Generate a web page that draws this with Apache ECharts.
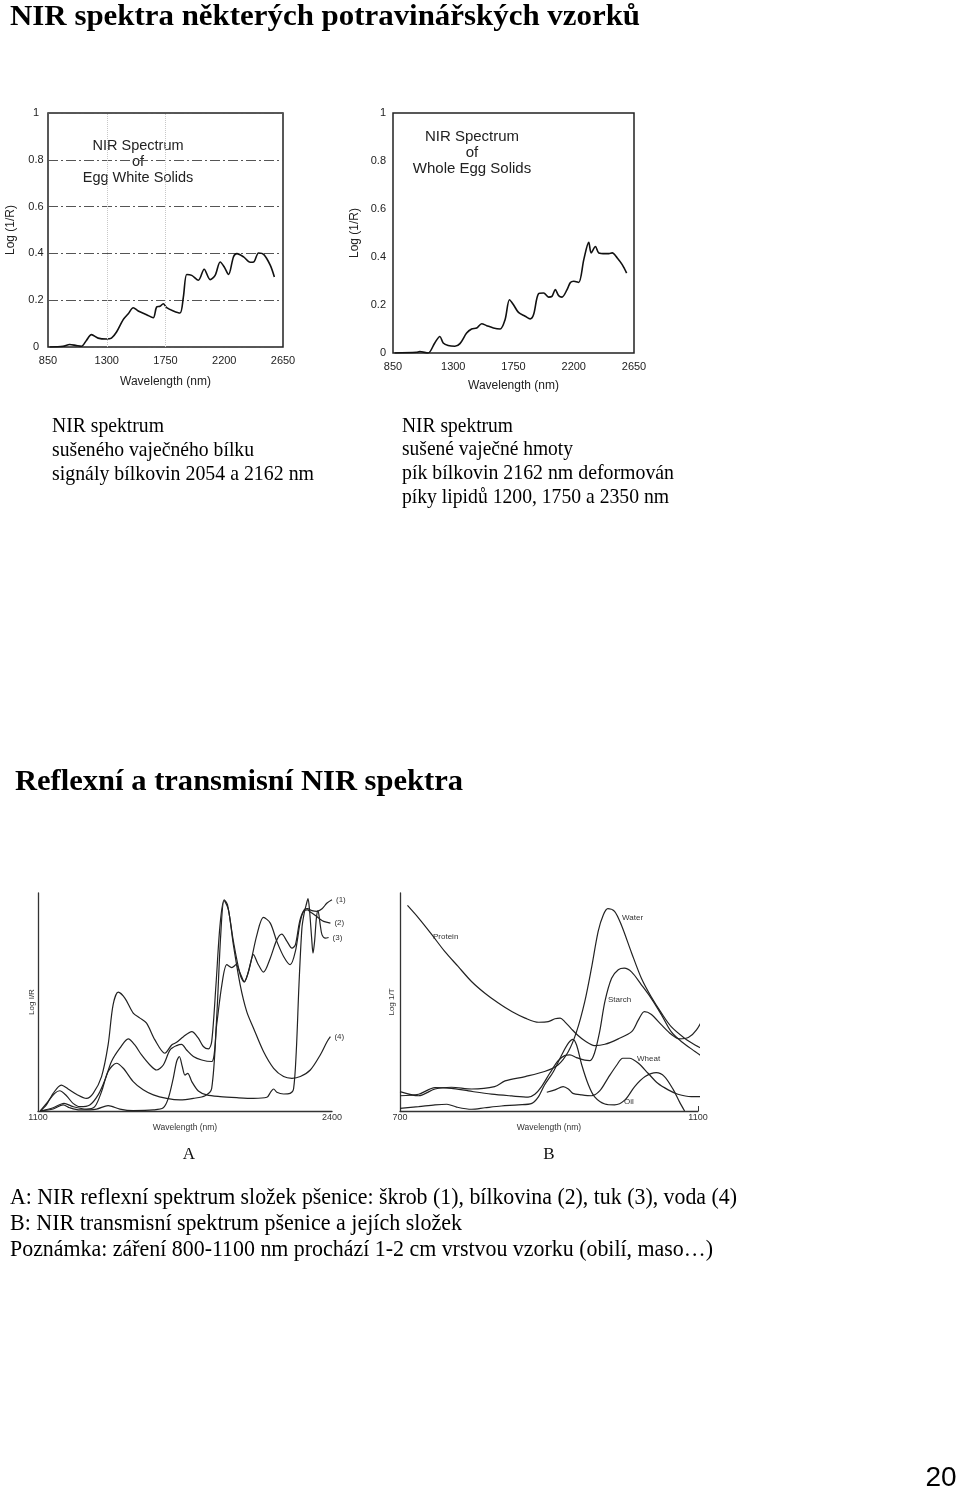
<!DOCTYPE html>
<html><head><meta charset="utf-8">
<script src="https://cdn.jsdelivr.net/npm/echarts@6/dist/echarts.min.js"></script>
<style>html,body{margin:0;padding:0;background:#fff}#c{width:960px;height:1491px}</style>
</head><body><div id="c"></div>
<script>
// ---------- Data: top-left, NIR spectrum of egg white solids ----------
const eggWhiteNm = [863,965,1016,1068,1106,1144,1183,1234,1298,1336,1375,1426,1465,1503,1541,1605,1656,1682,1708,1733,1759,1810,1861,1887,1913,1951,2002,2046,2092,2130,2169,2200,2233,2271,2297,2348,2399,2425,2463,2502,2553,2584];
const eggWhiteLogR = [0,0.003,0.011,0.006,0.003,0.028,0.053,0.038,0.034,0.038,0.064,0.117,0.142,0.168,0.154,0.138,0.125,0.171,0.174,0.185,0.168,0.154,0.145,0.214,0.31,0.306,0.285,0.332,0.288,0.306,0.363,0.342,0.31,0.386,0.399,0.385,0.362,0.363,0.402,0.396,0.349,0.299];
// ---------- Data: top-right, whole egg solids ----------
const wholeEggNm = [862,1025,1050,1112,1162,1200,1225,1262,1312,1350,1400,1437,1475,1512,1550,1600,1650,1687,1720,1750,1787,1837,1875,1900,1937,1975,2012,2037,2062,2087,2112,2150,2175,2200,2237,2275,2312,2330,2362,2387,2437,2462,2487,2525,2562,2595];
const wholeEggLogR = [0,0.003,0.006,0,0.042,0.069,0.042,0.031,0.028,0.039,0.083,0.1,0.104,0.122,0.114,0.104,0.1,0.139,0.222,0.201,0.169,0.153,0.142,0.16,0.247,0.25,0.233,0.236,0.264,0.239,0.233,0.264,0.294,0.299,0.294,0.389,0.461,0.417,0.444,0.417,0.414,0.414,0.417,0.396,0.368,0.333];
const topTicks = [850,1300,1750,2200,2650];

// ---------- Data: A, reflectance spectra of wheat components (relative units) ----------
const reflStarchNm = [1110,1137,1167,1203,1233,1270,1314,1344,1381,1410,1432,1455,1484,1521,1551,1580,1617,1661,1691,1713,1743,1780,1809,1831,1854,1868,1887,1905,1923,1938,1964,1994,2012,2038,2068,2097,2127,2156,2186,2215,2238,2260,2277,2292,2311,2334,2356,2378,2400];
const reflStarchVal = [0,2.8,8.1,11.9,10.1,7.7,5.8,8.1,15.8,30.3,48.7,54.5,51.8,44.9,42.6,40.3,32.6,26.5,30.3,31.5,34.1,36.4,33.4,29.6,28.5,31.8,57.9,85.4,96.9,94.6,77.8,62.5,59.1,67.1,80.8,88.8,86.2,77.8,70.9,67.1,73.2,87.0,92.3,92.8,91.9,91.6,92.8,95.4,96.9];
const reflProteinNm = [1110,1144,1174,1196,1226,1255,1285,1329,1366,1396,1425,1462,1499,1528,1558,1595,1624,1654,1684,1713,1735,1757,1787,1824,1868,1890,1913,1935,1957,1976,1994,2012,2031,2053,2071,2097,2127,2156,2178,2201,2223,2238,2257,2274,2292,2304,2319,2341,2363,2393];
const reflProteinVal = [0,4.3,8.1,9.3,7.0,3.5,2.0,2.8,7.4,14.2,22.7,28.8,33.1,30.3,25.7,21.1,18.8,21.1,28.0,30.0,30.6,28.0,25.0,23.4,22.7,39.5,57.9,67.1,65.8,67.1,63.2,59.4,64.0,71.7,67.8,63.7,70.1,78.5,81.1,77.8,74.7,76.2,87.0,91.6,92.3,91.3,90.3,88.5,87.0,86.2];
const reflOilNm = [1110,1167,1211,1240,1285,1359,1410,1462,1521,1610,1654,1676,1698,1713,1725,1738,1750,1762,1780,1809,1846,1905,1979,2053,2112,2130,2142,2156,2186,2215,2230,2242,2254,2267,2277,2286,2294,2301,2310,2316,2323,2331,2338,2348,2356,2371,2385];
const reflOilVal = [0,0.9,2.8,1.5,0.5,0.9,2.5,0.9,0.2,0.5,1.5,5.8,15.0,22.7,25.0,20.4,16.5,17.3,13.5,9.2,7.4,6.6,6.1,5.8,6.3,8.9,10.1,8.6,7.8,8.1,10.1,27.3,57.9,83.9,90.8,94.6,97.4,91.6,79.3,72.4,77.8,88.5,91.9,85.4,80.8,79.3,79.6];
const reflWaterNm = [1110,1167,1215,1255,1314,1351,1381,1410,1447,1477,1521,1565,1610,1669,1728,1787,1839,1868,1890,1908,1923,1942,1964,1994,2023,2053,2097,2142,2186,2223,2260,2304,2348,2378,2393];
const reflWaterVal = [0,1.5,3.5,2.0,0.9,2.0,8.9,18.1,21.9,19.6,13.5,9.7,7.4,5.8,5.1,5.8,7.0,10.4,42.6,80.8,96.5,92.3,76.2,57.9,45.6,38.0,27.3,19.6,15.8,15.0,15.8,18.8,25.7,31.8,34.1];
const reflLabels = ['(1)','(2)','(3)','(4)'];
const reflTicks = [1100,2400];

// ---------- Data: B, transmission spectra of wheat and components ----------
const transProteinNm = [710,725,743,760,778,796,814,832,850,868,886,899,908,915,921,930,939,948,961,975,993,1011,1020,1028,1037,1051,1064,1075,1087,1098,1109];
const transProteinVal = [94.3,88.5,80.8,73.2,66.3,59.4,54.0,49.5,45.6,42.6,40.7,41.0,42.3,42.6,41.0,37.7,34.6,32.2,30.0,30.6,33.1,36.4,41.8,45.6,44.4,39.5,35.2,33.1,33.7,37.2,44.1];
const transWaterNm = [700,725,747,769,796,827,841,868,894,912,926,937,948,957,966,973,979,988,997,1011,1024,1037,1051,1064,1082,1096,1109];
const transWaterVal = [8.9,7.0,10.1,10.9,10.1,11.2,13.8,15.8,18.1,21.1,27.3,36.4,50.2,65.5,82.4,90.0,92.8,91.6,85.4,72.4,60.9,52.5,44.9,38.7,33.4,30.3,28.0];
const transStarchNm = [700,725,747,769,792,823,850,872,881,890,901,912,921,928,937,948,955,961,968,975,984,993,1001,1011,1024,1037,1051,1064,1078,1096,1109];
const transStarchVal = [7.0,7.7,10.7,10.4,9.2,7.7,6.9,6.4,7.7,11.2,17.3,23.0,25.4,25.7,24.5,23.3,23.1,26.5,36.4,50.2,60.9,64.8,65.5,63.7,57.9,51.8,44.1,36.4,31.8,27.3,24.2];
const transOilNm = [700,725,747,763,776,796,814,836,859,877,886,894,906,917,926,932,937,944,953,961,975,988,1002,1015,1029,1044,1055,1067,1075,1082];
const transOilVal = [1.2,2.0,2.8,3.1,1.8,0.8,1.5,2.3,2.8,3.5,6.6,11.9,18.1,25.7,31.1,32.9,30.3,21.1,11.9,6.6,3.2,2.8,5.1,11.2,15.8,17.6,15.8,9.7,4.3,0];
const transWheatNm = [897,908,919,926,932,944,957,968,979,991,999,1008,1020,1033,1046,1060,1073,1091,1109];
const transWheatVal = [8.6,9.7,11.2,10.1,8.1,7.4,7.0,9.2,15.0,21.1,24.2,24.2,21.9,17.3,12.7,9.7,7.7,6.6,6.6];
const transTicks = [700,1100];

// ---------- Texts ----------
const pageTitle = 'NIR spektra některých potravinářských vzorků';
const leftNotes = ['NIR spektrum','sušeného vaječného bílku','signály bílkovin 2054 a 2162 nm'];
const rightNotes = ['NIR spektrum','sušené vaječné hmoty','pík bílkovin 2162 nm deformován','píky lipidů 1200, 1750 a 2350 nm'];
const sectionTitle = 'Reflexní a transmisní NIR spektra';
const captions = ['A: NIR reflexní spektrum složek pšenice: škrob (1), bílkovina (2), tuk (3), voda (4)','B: NIR transmisní spektrum pšenice a jejích složek','Poznámka: záření 800-1100 nm prochází 1-2 cm vrstvou vzorku (obilí, maso…)'];

const zip = (xs, ys) => xs.map((x, i) => [x, ys[i]]);
const SANS = '"Liberation Sans", Arial, sans-serif';
const SERIF = '"Liberation Serif", "Times New Roman", serif';
const plain = v => String(v);
const cvs = document.createElement('canvas').getContext('2d');
function fitText(text, x, y, font, width) {
  cvs.font = font;
  const w = cvs.measureText(text).width;
  return {
    type: 'text', x: x, y: y, scaleX: width ? width / w : 1, silent: true,
    style: { text: text, font: font, fill: '#000', align: 'left', textAlign: 'left', verticalAlign: 'middle', textVerticalAlign: 'middle' }
  };
}
function plainText(text, x, y, font, align, color) {
  return { type: 'text', x: x, y: y, silent: true,
    style: { text: text, font: font, fill: color || '#222', align: align || 'left', textAlign: align || 'left', verticalAlign: 'middle', textVerticalAlign: 'middle', lineHeight: 16 } };
}

const chart = echarts.init(document.getElementById('c'), null, { renderer: 'canvas' });

const topLine = { color: '#111', width: 1.6 };
const lowLine = { color: '#222', width: 1.2 };

function topX(gi, gap) {
  return { type: 'value', gridIndex: gi, min: 850, max: 2650,
    axisLine: { show: false }, axisTick: { show: false }, splitLine: { show: false },
    axisLabel: { customValues: topTicks, formatter: plain, fontSize: 11, margin: 8, color: '#222', fontFamily: SANS },
    name: 'Wavelength (nm)', nameLocation: 'middle', nameGap: gap,
    nameTextStyle: { fontSize: 12, color: '#222', fontFamily: SANS } };
}
function topY(gi, gap, grid, labelAlign, margin) {
  return { type: 'value', gridIndex: gi, min: 0, max: 1, interval: 0.2,
    axisLine: { show: false }, axisTick: { show: false },
    splitLine: { show: grid, lineStyle: { type: [10, 3, 2, 3], color: '#555', width: 1 } },
    axisLabel: { fontSize: 11, margin: margin, color: '#222', fontFamily: SANS, align: labelAlign },
    name: 'Log (1/R)', nameLocation: 'middle', nameGap: gap, nameRotate: 90,
    nameTextStyle: { fontSize: 12, color: '#222', fontFamily: SANS } };
}
function lowX(gi, min, max, ticks, gap, tick) {
  return { type: 'value', gridIndex: gi, min: min, max: max,
    axisLine: { show: true, lineStyle: { color: '#333', width: 1.3 } },
    axisTick: tick ? { show: true, inside: true, length: 5, customValues: [max], lineStyle: { color: '#333' } } : { show: false },
    splitLine: { show: false },
    axisLabel: { customValues: ticks, formatter: plain, fontSize: 9, margin: 2, color: '#333', fontFamily: SANS },
    name: 'Wavelength (nm)', nameLocation: 'middle', nameGap: gap,
    nameTextStyle: { fontSize: 8.5, color: '#333', fontFamily: SANS } };
}
function lowY(gi, name, gap) {
  return { type: 'value', gridIndex: gi, min: 0, max: 100,
    axisLine: { show: true, lineStyle: { color: '#333', width: 1.3 } },
    axisTick: { show: false }, axisLabel: { show: false }, splitLine: { show: false },
    name: name, nameLocation: 'middle', nameGap: gap, nameRotate: 90,
    nameTextStyle: { fontSize: 8, color: '#333', fontFamily: SANS } };
}
function lineSeries(xi, data, style, extra) {
  return Object.assign({ type: 'line', xAxisIndex: xi, yAxisIndex: xi, data: data,
    showSymbol: false, symbol: 'none', smooth: 0.3, lineStyle: style, silent: true, animation: false }, extra || {});
}
function reflSeries(xs, ys, label) {
  return lineSeries(2, zip(xs, ys), lowLine, { clip: false,
    endLabel: { show: true, formatter: label, fontSize: 8, color: '#333', distance: 4, fontFamily: SANS } });
}

const graphics = [
  fitText(pageTitle, 10, 17, 'bold 30px ' + SERIF, 630),
  plainText('NIR Spectrum\nof\nEgg White Solids', 138, 162, '14.5px ' + SANS, 'center'),
  plainText('NIR Spectrum\nof\nWhole Egg Solids', 472, 153, '15px ' + SANS, 'center'),
];
const leftW = [112, 202, 262];
leftNotes.forEach((t, i) => graphics.push(fitText(t, 52, 426 + i * 24, '21px ' + SERIF, leftW[i])));
const rightW = [111, 171, 272, 267];
rightNotes.forEach((t, i) => graphics.push(fitText(t, 402, 426 + i * 23.7, '21px ' + SERIF, rightW[i])));
graphics.push(fitText(sectionTitle, 15, 783, 'bold 29px ' + SERIF, 448));
graphics.push(plainText('A', 189, 1155, '17px ' + SERIF, 'center', '#111'));
graphics.push(plainText('B', 549, 1155, '17px ' + SERIF, 'center', '#111'));
graphics.push(plainText('Protein', 433, 937, '8px ' + SANS, 'left', '#333'));
graphics.push(plainText('Water', 622, 918, '8px ' + SANS, 'left', '#333'));
graphics.push(plainText('Starch', 608, 1000, '8px ' + SANS, 'left', '#333'));
graphics.push(plainText('Wheat', 637, 1059, '8px ' + SANS, 'left', '#333'));
graphics.push(plainText('Oil', 624, 1102, '8px ' + SANS, 'left', '#333'));
const capW = [727, 452, 703];
captions.forEach((t, i) => graphics.push(fitText(t, 10, 1198 + i * 26, '24px ' + SERIF, capW[i])));
graphics.push(plainText('20', 941, 1478, '28px ' + SANS, 'center', '#000'));

const option = {
  backgroundColor: '#fff',
  animation: false,
  grid: [
    { left: 48, top: 113, width: 235, height: 234, show: true, borderColor: '#222', borderWidth: 1.5, backgroundColor: 'transparent' },
    { left: 393, top: 113, width: 241, height: 240, show: true, borderColor: '#222', borderWidth: 1.5, backgroundColor: 'transparent' },
    { left: 38, top: 893, width: 294, height: 218 },
    { left: 400, top: 893, width: 298, height: 218 }
  ],
  xAxis: [ topX(0, 29), topX(1, 27), lowX(2, 1100, 2400, reflTicks, 10, false), lowX(3, 700, 1100, transTicks, 11, true) ],
  yAxis: [ topY(0, 31, true, 'center', 12), topY(1, 32, false, 'right', 7), lowY(2, 'Log I/R', 2), lowY(3, 'Log 1/T', 4) ],
  series: [
    lineSeries(0, zip(eggWhiteNm, eggWhiteLogR), topLine, {
      markLine: { silent: true, symbol: 'none', label: { show: false },
        lineStyle: { type: 'dotted', color: '#c8c8c8', width: 1 },
        data: [{ xAxis: 1300 }, { xAxis: 1750 }] } }),
    lineSeries(1, zip(wholeEggNm, wholeEggLogR), topLine),
    reflSeries(reflStarchNm, reflStarchVal, reflLabels[0]),
    reflSeries(reflProteinNm, reflProteinVal, reflLabels[1]),
    reflSeries(reflOilNm, reflOilVal, reflLabels[2]),
    reflSeries(reflWaterNm, reflWaterVal, reflLabels[3]),
    lineSeries(3, zip(transProteinNm, transProteinVal), lowLine, { clip: false }),
    lineSeries(3, zip(transWaterNm, transWaterVal), lowLine, { clip: false }),
    lineSeries(3, zip(transStarchNm, transStarchVal), lowLine, { clip: false }),
    lineSeries(3, zip(transOilNm, transOilVal), lowLine, { clip: false }),
    lineSeries(3, zip(transWheatNm, transWheatVal), lowLine, { clip: false })
  ],
  graphic: { elements: graphics }
};
chart.setOption(option);
</script>
</body></html>
